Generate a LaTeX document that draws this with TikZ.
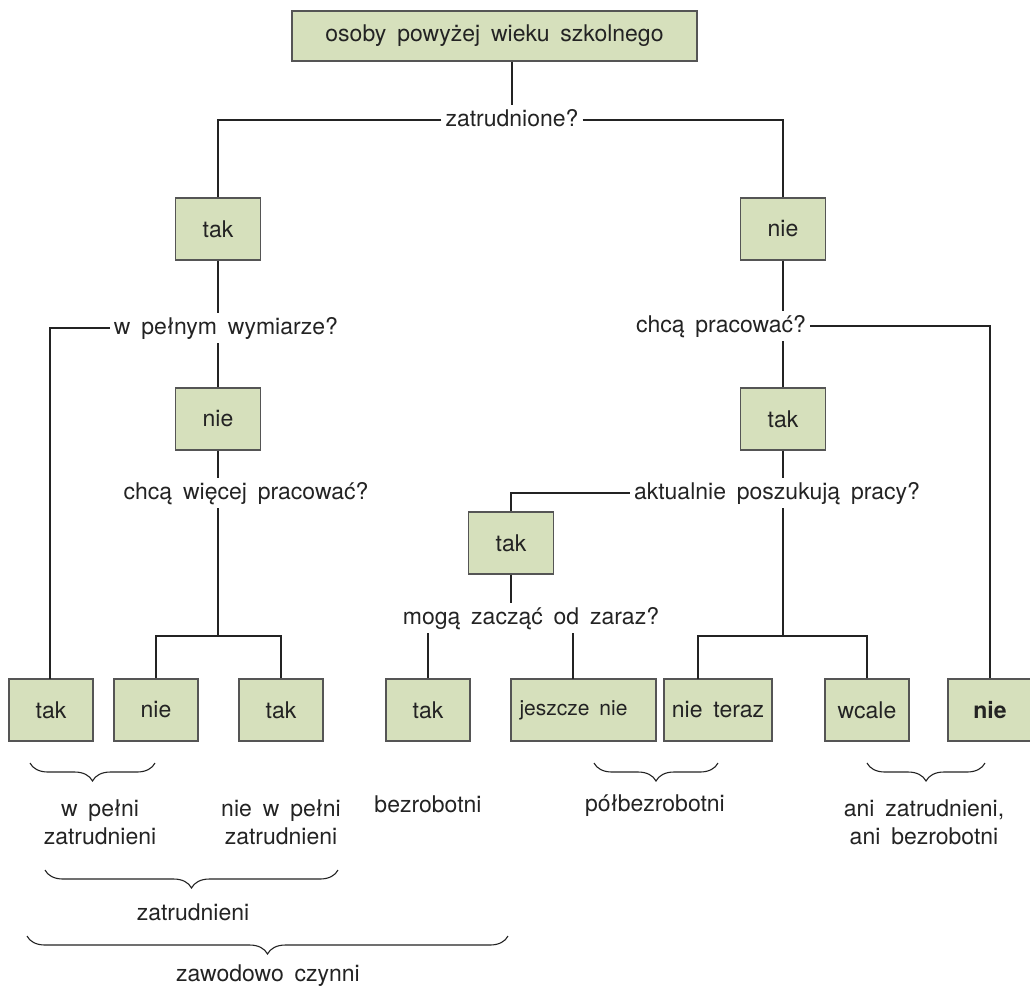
\documentclass[tikz,border=0pt]{standalone}
\usepackage{fontspec}
\setmainfont[WordSpace=1.7]{TeX Gyre Heros}
\usetikzlibrary{decorations.pathreplacing}
\definecolor{boxgreen}{RGB}{214,224,188}
\definecolor{edgegray}{RGB}{85,85,85}
\definecolor{ink}{RGB}{35,35,35}
\tikzset{
  gbox/.style={draw=edgegray, line width=1.4pt, fill=boxgreen, minimum width=85pt, minimum height=62pt, inner sep=0pt, text=ink},
  qtext/.style={inner sep=4pt, text height=17pt, text depth=5pt, text=ink},
  lbl/.style={inner sep=0pt, text=ink, align=center},
  conn/.style={draw=ink, line width=1.1pt},
  brc/.style={draw=ink, line width=1.1pt, decorate, decoration={brace, mirror, amplitude=18pt}}
}
\begin{document}
\begin{tikzpicture}[x=1pt,y=-1pt, font=\fontsize{23}{28}\selectfont]
\useasboundingbox (0,0) rectangle (1030,986);
% boxes
\node[gbox, minimum width=405pt, minimum height=50pt] (top) at (494.5,36) {osoby powyżej wieku szkolnego};
\node[qtext] (q1) at (512,120) {zatrudnione?};
\node[gbox] (tak1) at (218,229) {tak};
\node[gbox] (nie1) at (783,229) {nie};
\node[qtext] (q2) at (226,328) {w pełnym wymiarze?};
\node[gbox] (nie2) at (218,419) {nie};
\node[qtext] (q3) at (246,493) {chcą więcej pracować?};
\node[qtext] (q4) at (721,326) {chcą pracować?};
\node[gbox] (tak2) at (783,419) {tak};
\node[qtext] (q5) at (777,493) {aktualnie poszukują pracy?};
\node[gbox] (tak3) at (511,543) {tak};
\node[qtext] (q6) at (531,618) {mogą zacząć od zaraz?};
% bottom row
\node[gbox, minimum width=84pt] (b1) at (51,710) {tak};
\node[gbox, minimum width=84pt] (b2) at (156,710) {nie};
\node[gbox, minimum width=84pt] (b3) at (281,710) {tak};
\node[gbox, minimum width=84pt] (b4) at (428,710) {tak};
\node[gbox, minimum width=145pt, font=\fontsize{21}{26}\selectfont] (b5) at (583.5,710) {\raisebox{2pt}{jeszcze nie}\hspace*{20pt}};
\node[gbox, minimum width=108pt] (b6) at (718,710) {nie teraz};
\node[gbox, minimum width=84pt] (b7) at (867,710) {wcale};
\node[gbox, minimum width=84pt] (b8) at (990,710) {\textbf{nie}};
% junction coordinates
\coordinate (j3) at (218,636);
\coordinate (j5) at (783,636);
\coordinate (s6) at (573,679);
% connectors
\draw[conn] (q1 |- top.south) -- (q1.north);
\draw[conn] (q1.west) -| (tak1.north);
\draw[conn] (q1.east) -| (nie1.north);
\draw[conn] (tak1.south) -- (tak1.south |- q2.north);
\draw[conn] (q2.west) -| (50,679);
\draw[conn] (tak1.south |- q2.south) -- (nie2.north);
\draw[conn] (nie2.south) -- (nie2.south |- q3.north);
\draw[conn] (nie2.south |- q3.south) -- (j3);
\draw[conn] (b2.north) |- (j3) -| (b3.north);
\draw[conn] (nie1.south) -- (nie1.south |- q4.north);
\draw[conn] (q4.east) -| (b8.north);
\draw[conn] (nie1.south |- q4.south) -- (tak2.north);
\draw[conn] (tak2.south) -- (tak2.south |- q5.north);
\draw[conn] (q5.west) -| (tak3.north);
\draw[conn] (tak2.south |- q5.south) -- (j5);
\draw[conn] (698,679) |- (j5) -| (b7.north);
\draw[conn] (tak3.south) -- (tak3.south |- q6.north);
\draw[conn] (b4.north |- q6.south) -- (b4.north);
\draw[conn] (s6 |- q6.south) -- (s6);
% braces
\draw[brc] (30,763) -- (155,763);
\draw[brc] (45,870) -- (338,870);
\draw[brc] (27,936) -- (508,936);
\draw[brc] (594,763) -- (718,763);
\draw[brc] (867,763) -- (985,763);
% labels
\node[lbl] (l1) at (100,822) {w pełni\\zatrudnieni};
\node[lbl] (l2) at (281,822) {nie w pełni\\zatrudnieni};
\node[lbl, text height=17pt, text depth=5pt] (l3) at (428,806) {bezrobotni};
\node[lbl, text height=17pt, text depth=5pt] (l4) at (655,805) {półbezrobotni};
\node[lbl] (l5) at (924,822) {ani zatrudnieni,\\ani bezrobotni};
\node[lbl, text height=17pt, text depth=5pt] (l6) at (193,914) {zatrudnieni};
\node[lbl, text height=17pt, text depth=5pt] (l7) at (268,975) {zawodowo czynni};
\end{tikzpicture}
\end{document}
